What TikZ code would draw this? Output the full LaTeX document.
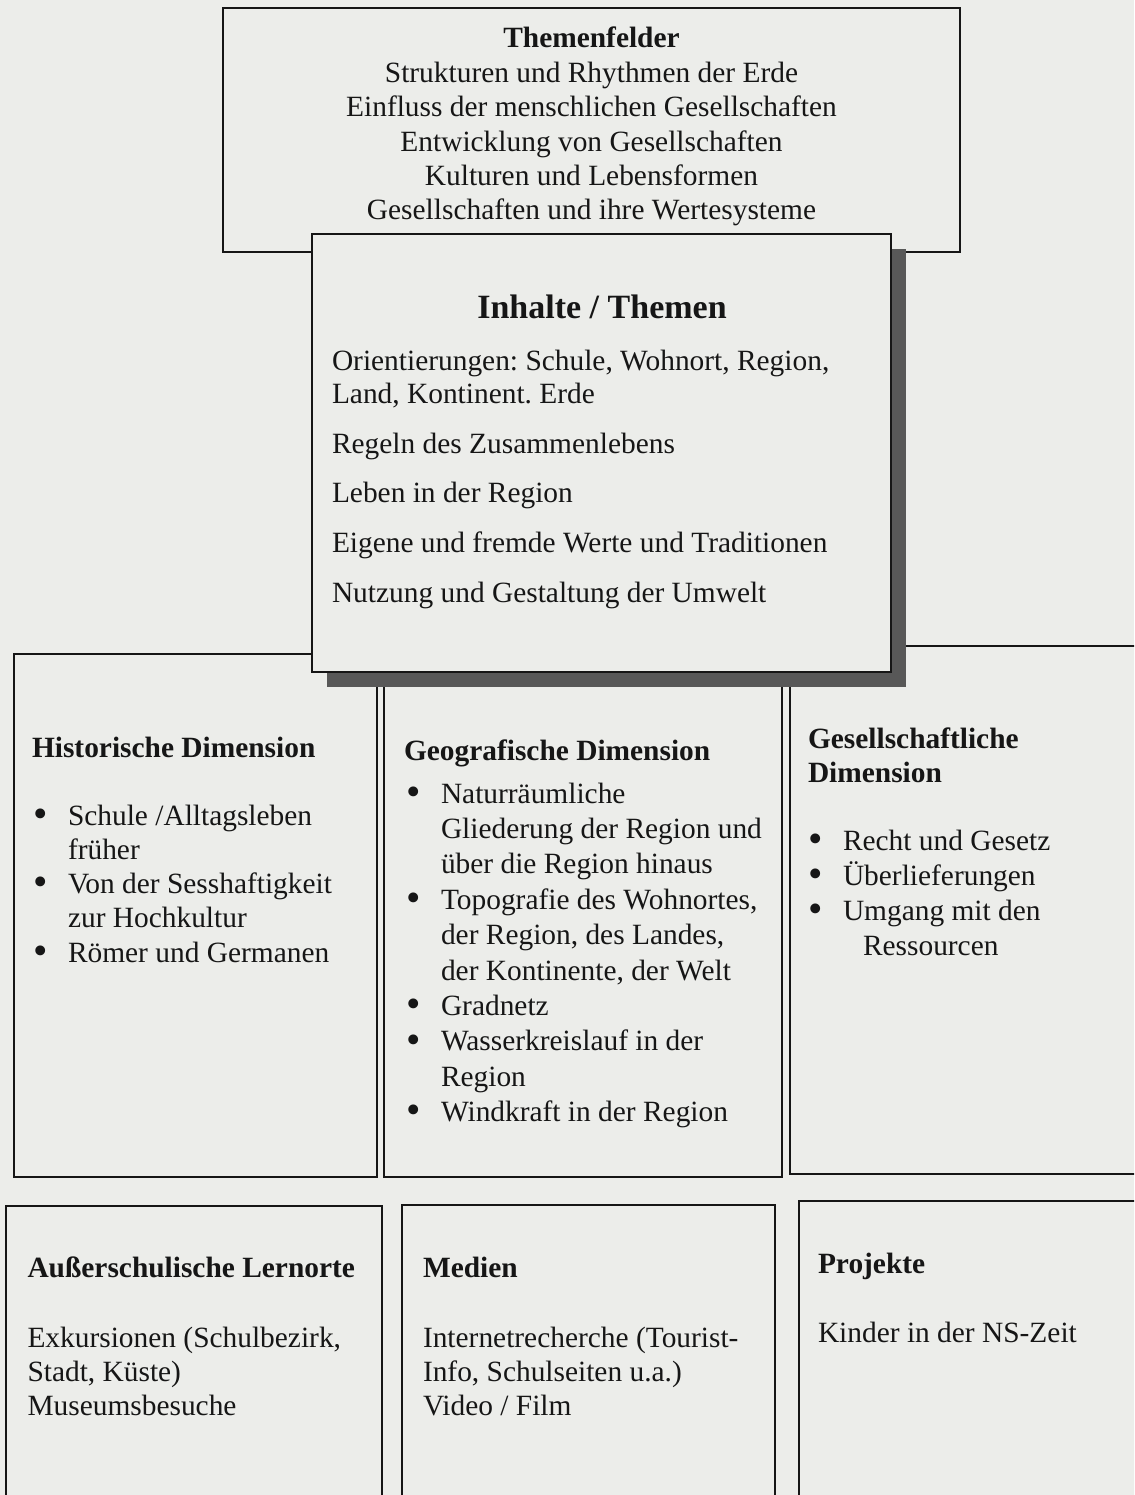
\documentclass[tikz,border=0pt]{standalone}
\usepackage{fontspec}
\setmainfont{Liberation Serif}
\usetikzlibrary{shadows}
\definecolor{paper}{RGB}{236,237,234}
\definecolor{ink}{RGB}{22,22,22}
\definecolor{shade}{RGB}{88,88,88}
\tikzset{
  box/.style={draw=ink, line width=2pt, fill=paper, anchor=north west, inner sep=0pt, outer sep=0pt},
  txt/.style={anchor=base west, inner sep=0pt, outer sep=0pt, text=ink},
  ctxt/.style={anchor=base, inner sep=0pt, outer sep=0pt, text=ink},
}
\newcommand\bodyfont[1][34.4]{\fontsize{29.4}{#1}\selectfont\frenchspacing}
\newcommand\bul{\makebox[35pt][l]{\raisebox{-2.2pt}{\scalebox{1.4}{\textbullet}}}}
\newcommand\ind{\hspace*{35pt}}
\begin{document}
\begin{tikzpicture}[x=1pt,y=1pt]
\clip (0,0) rectangle (1134,-1495);
\fill[paper] (0,0) rectangle (1134,-1495);
% boxes
\node[box, minimum width=737pt, minimum height=244pt] (felder) at (223,-8) {};
\node[box, minimum width=363pt, minimum height=523pt] (hist) at (14,-654) {};
\node[box, minimum width=398pt, minimum height=493pt] (geo) at (384,-684) {};
\node[box, minimum width=380pt, minimum height=528pt] (gesell) at (790,-646) {};
\node[box, minimum width=376pt, minimum height=320pt] (ausser) at (6,-1206) {};
\node[box, minimum width=373pt, minimum height=320pt] (medien) at (402,-1205) {};
\node[box, minimum width=370pt, minimum height=320pt] (projekte) at (799,-1201) {};
\node[box, minimum width=579pt, minimum height=438pt,
      general shadow={fill=shade, shadow xshift=15pt, shadow yshift=-15pt}] (inhalte) at (312,-234) {};
% Themenfelder
\node[ctxt, font=\bodyfont] (felderT) at (591.5,-48) {\begin{tabular}[t]{@{}c@{}}\textbf{Themenfelder}\\
Strukturen und Rhythmen der Erde\\
Einfluss der menschlichen Gesellschaften\\
Entwicklung von Gesellschaften\\
Kulturen und Lebensformen\\
Gesellschaften und ihre Wertesysteme\end{tabular}};
% Inhalte
\node[ctxt, font=\fontsize{34}{40}\selectfont\bfseries] (inhalteT) at (602,-318) {Inhalte / Themen};
\node[txt, font={\bodyfont[33.3]}] (inhalteL) at (332,-370) {\begin{tabular}[t]{@{}l@{}}Orientierungen: Schule, Wohnort, Region,\\
Land, Kontinent. Erde\\[16.5pt]
Regeln des Zusammenlebens\\[16.5pt]
Leben in der Region\\[16.5pt]
Eigene und fremde Werte und Traditionen\\[16.5pt]
Nutzung und Gestaltung der Umwelt\end{tabular}};
% Historische
\node[txt, font=\bodyfont\bfseries] (histH) at (32,-757) {Historische Dimension};
\node[txt, font={\bodyfont[34.3]}] (histL) at (33,-825) {\begin{tabular}[t]{@{}l@{}}\bul Schule /Alltagsleben\\
\ind früher\\
\bul Von der Sesshaftigkeit\\
\ind zur Hochkultur\\
\bul Römer und Germanen\end{tabular}};
% Geografische
\node[txt, font=\bodyfont\bfseries] (geoH) at (404,-760) {Geografische Dimension};
\node[txt, font={\bodyfont[35.4]}] (geoL) at (406,-803) {\begin{tabular}[t]{@{}l@{}}\bul Naturräumliche\\
\ind Gliederung der Region und\\
\ind über die Region hinaus\\
\bul Topografie des Wohnortes,\\
\ind der Region, des Landes,\\
\ind der Kontinente, der Welt\\
\bul Gradnetz\\
\bul Wasserkreislauf in der\\
\ind Region\\
\bul Windkraft in der Region\end{tabular}};
% Gesellschaftliche
\node[txt, font={\bodyfont[34]\bfseries}] (gesellH) at (808,-748) {\begin{tabular}[t]{@{}l@{}}Gesellschaftliche\\Dimension\end{tabular}};
\node[txt, font={\bodyfont[35]}] (gesellL) at (808,-850) {\begin{tabular}[t]{@{}l@{}}\bul Recht und Gesetz\\
\bul Überlieferungen\\
\bul Umgang mit den\\
\hspace*{55pt}Ressourcen\end{tabular}};
% bottom row
\node[txt, font=\bodyfont\bfseries] (ausserH) at (27.5,-1277) {Außerschulische Lernorte};
\node[txt, font={\bodyfont[34]}] (ausserL) at (27.5,-1347) {\begin{tabular}[t]{@{}l@{}}Exkursionen (Schulbezirk,\\
Stadt, Küste)\\
Museumsbesuche\end{tabular}};
\node[txt, font=\bodyfont\bfseries] (medienH) at (423,-1277) {Medien};
\node[txt, font={\bodyfont[34]}] (medienL) at (423,-1347) {\begin{tabular}[t]{@{}l@{}}Internetrecherche (Tourist-\\
Info, Schulseiten u.a.)\\
Video / Film\end{tabular}};
\node[txt, font=\bodyfont\bfseries] (projekteH) at (818,-1273) {Projekte};
\node[txt, font=\bodyfont] (projekteL) at (818,-1342) {Kinder in der NS-Zeit};
\end{tikzpicture}
\end{document}
